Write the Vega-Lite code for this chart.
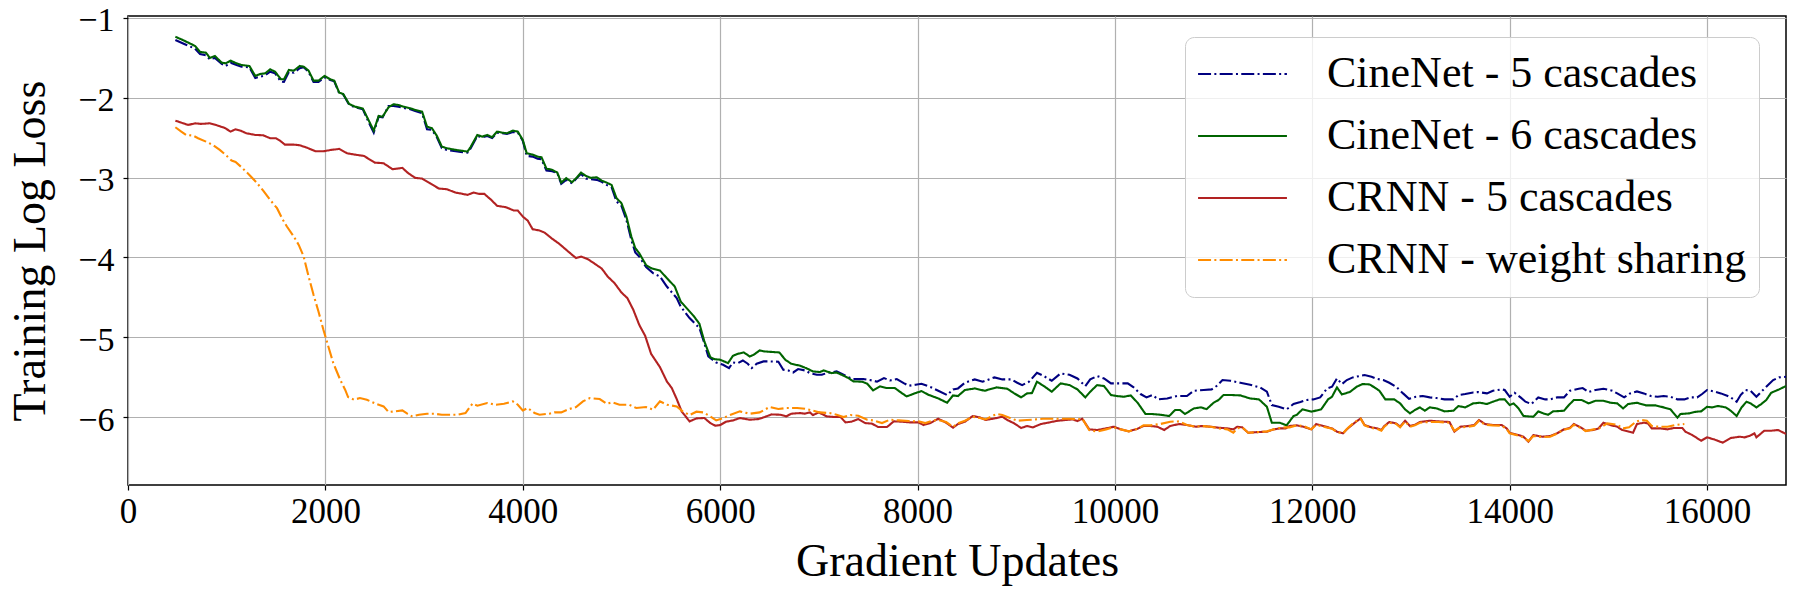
{
"$schema": "https://vega.github.io/schema/vega-lite/v6.json",
"width": 1658, "height": 469,
"autosize": {"type": "none"},
"padding": {"left": 128, "top": 16, "right": 14, "bottom": 115},
"background": "white",
"config": {
  "font": "Liberation Serif",
  "view": {"stroke": "black", "strokeWidth": 1.5},
  "axis": {"labelFont": "Liberation Serif", "labelFontSize": 35, "labelColor": "black", "tickColor": "black", "tickSize": 5, "tickWidth": 1.2, "domain": false, "grid": true, "gridColor": "#b0b0b0", "gridWidth": 1.2, "titleFont": "Liberation Serif", "titleFontSize": 46, "titleFontWeight": "normal", "titleColor": "black", "labelFlush": false}
},
"data": {"values": [
{"s":"CineNet - 5 cascades","x":480,"y":-1.279},{"s":"CineNet - 5 cascades","x":570,"y":-1.329},{"s":"CineNet - 5 cascades","x":680,"y":-1.388},{"s":"CineNet - 5 cascades","x":730,"y":-1.454},{"s":"CineNet - 5 cascades","x":790,"y":-1.471},{"s":"CineNet - 5 cascades","x":830,"y":-1.521},{"s":"CineNet - 5 cascades","x":880,"y":-1.504},{"s":"CineNet - 5 cascades","x":950,"y":-1.579},{"s":"CineNet - 5 cascades","x":990,"y":-1.604},{"s":"CineNet - 5 cascades","x":1040,"y":-1.563},{"s":"CineNet - 5 cascades","x":1100,"y":-1.592},{"s":"CineNet - 5 cascades","x":1150,"y":-1.613},{"s":"CineNet - 5 cascades","x":1230,"y":-1.621},{"s":"CineNet - 5 cascades","x":1290,"y":-1.754},{"s":"CineNet - 5 cascades","x":1340,"y":-1.738},{"s":"CineNet - 5 cascades","x":1390,"y":-1.721},{"s":"CineNet - 5 cascades","x":1440,"y":-1.675},{"s":"CineNet - 5 cascades","x":1490,"y":-1.696},{"s":"CineNet - 5 cascades","x":1550,"y":-1.8},{"s":"CineNet - 5 cascades","x":1580,"y":-1.804},{"s":"CineNet - 5 cascades","x":1630,"y":-1.679},{"s":"CineNet - 5 cascades","x":1680,"y":-1.688},{"s":"CineNet - 5 cascades","x":1740,"y":-1.633},{"s":"CineNet - 5 cascades","x":1780,"y":-1.621},{"s":"CineNet - 5 cascades","x":1830,"y":-1.679},{"s":"CineNet - 5 cascades","x":1880,"y":-1.804},{"s":"CineNet - 5 cascades","x":1930,"y":-1.804},{"s":"CineNet - 5 cascades","x":1990,"y":-1.746},{"s":"CineNet - 5 cascades","x":2050,"y":-1.779},{"s":"CineNet - 5 cascades","x":2090,"y":-1.796},{"s":"CineNet - 5 cascades","x":2140,"y":-1.946},{"s":"CineNet - 5 cascades","x":2180,"y":-1.958},{"s":"CineNet - 5 cascades","x":2240,"y":-2.088},{"s":"CineNet - 5 cascades","x":2300,"y":-2.121},{"s":"CineNet - 5 cascades","x":2380,"y":-2.146},{"s":"CineNet - 5 cascades","x":2440,"y":-2.313},{"s":"CineNet - 5 cascades","x":2490,"y":-2.438},{"s":"CineNet - 5 cascades","x":2540,"y":-2.238},{"s":"CineNet - 5 cascades","x":2580,"y":-2.246},{"s":"CineNet - 5 cascades","x":2640,"y":-2.104},{"s":"CineNet - 5 cascades","x":2690,"y":-2.104},{"s":"CineNet - 5 cascades","x":2740,"y":-2.113},{"s":"CineNet - 5 cascades","x":2790,"y":-2.129},{"s":"CineNet - 5 cascades","x":2860,"y":-2.146},{"s":"CineNet - 5 cascades","x":2910,"y":-2.167},{"s":"CineNet - 5 cascades","x":2980,"y":-2.196},{"s":"CineNet - 5 cascades","x":3030,"y":-2.396},{"s":"CineNet - 5 cascades","x":3080,"y":-2.404},{"s":"CineNet - 5 cascades","x":3130,"y":-2.496},{"s":"CineNet - 5 cascades","x":3180,"y":-2.633},{"s":"CineNet - 5 cascades","x":3230,"y":-2.654},{"s":"CineNet - 5 cascades","x":3320,"y":-2.671},{"s":"CineNet - 5 cascades","x":3370,"y":-2.679},{"s":"CineNet - 5 cascades","x":3440,"y":-2.688},{"s":"CineNet - 5 cascades","x":3470,"y":-2.638},{"s":"CineNet - 5 cascades","x":3540,"y":-2.479},{"s":"CineNet - 5 cascades","x":3590,"y":-2.496},{"s":"CineNet - 5 cascades","x":3640,"y":-2.479},{"s":"CineNet - 5 cascades","x":3690,"y":-2.504},{"s":"CineNet - 5 cascades","x":3740,"y":-2.438},{"s":"CineNet - 5 cascades","x":3790,"y":-2.446},{"s":"CineNet - 5 cascades","x":3840,"y":-2.454},{"s":"CineNet - 5 cascades","x":3900,"y":-2.429},{"s":"CineNet - 5 cascades","x":3950,"y":-2.438},{"s":"CineNet - 5 cascades","x":4000,"y":-2.538},{"s":"CineNet - 5 cascades","x":4040,"y":-2.729},{"s":"CineNet - 5 cascades","x":4100,"y":-2.738},{"s":"CineNet - 5 cascades","x":4150,"y":-2.763},{"s":"CineNet - 5 cascades","x":4190,"y":-2.771},{"s":"CineNet - 5 cascades","x":4240,"y":-2.913},{"s":"CineNet - 5 cascades","x":4300,"y":-2.921},{"s":"CineNet - 5 cascades","x":4350,"y":-2.946},{"s":"CineNet - 5 cascades","x":4390,"y":-3.079},{"s":"CineNet - 5 cascades","x":4440,"y":-3.029},{"s":"CineNet - 5 cascades","x":4500,"y":-3.071},{"s":"CineNet - 5 cascades","x":4550,"y":-3.004},{"s":"CineNet - 5 cascades","x":4590,"y":-2.954},{"s":"CineNet - 5 cascades","x":4640,"y":-3.013},{"s":"CineNet - 5 cascades","x":4690,"y":-3.021},{"s":"CineNet - 5 cascades","x":4750,"y":-3.029},{"s":"CineNet - 5 cascades","x":4800,"y":-3.054},{"s":"CineNet - 5 cascades","x":4850,"y":-3.092},{"s":"CineNet - 5 cascades","x":4900,"y":-3.121},{"s":"CineNet - 5 cascades","x":4950,"y":-3.3},{"s":"CineNet - 5 cascades","x":5000,"y":-3.354},{"s":"CineNet - 5 cascades","x":5050,"y":-3.529},{"s":"CineNet - 5 cascades","x":5100,"y":-3.779},{"s":"CineNet - 5 cascades","x":5140,"y":-3.938},{"s":"CineNet - 5 cascades","x":5180,"y":-3.988},{"s":"CineNet - 5 cascades","x":5250,"y":-4.121},{"s":"CineNet - 5 cascades","x":5320,"y":-4.196},{"s":"CineNet - 5 cascades","x":5390,"y":-4.238},{"s":"CineNet - 5 cascades","x":5460,"y":-4.363},{"s":"CineNet - 5 cascades","x":5560,"y":-4.508},{"s":"CineNet - 5 cascades","x":5600,"y":-4.613},{"s":"CineNet - 5 cascades","x":5690,"y":-4.758},{"s":"CineNet - 5 cascades","x":5790,"y":-4.883},{"s":"CineNet - 5 cascades","x":5840,"y":-5.071},{"s":"CineNet - 5 cascades","x":5880,"y":-5.238},{"s":"CineNet - 5 cascades","x":5960,"y":-5.313},{"s":"CineNet - 5 cascades","x":6030,"y":-5.342},{"s":"CineNet - 5 cascades","x":6090,"y":-5.383},{"s":"CineNet - 5 cascades","x":6130,"y":-5.313},{"s":"CineNet - 5 cascades","x":6180,"y":-5.321},{"s":"CineNet - 5 cascades","x":6230,"y":-5.288},{"s":"CineNet - 5 cascades","x":6280,"y":-5.329},{"s":"CineNet - 5 cascades","x":6320,"y":-5.383},{"s":"CineNet - 5 cascades","x":6370,"y":-5.329},{"s":"CineNet - 5 cascades","x":6440,"y":-5.3},{"s":"CineNet - 5 cascades","x":6500,"y":-5.3},{"s":"CineNet - 5 cascades","x":6590,"y":-5.304},{"s":"CineNet - 5 cascades","x":6640,"y":-5.404},{"s":"CineNet - 5 cascades","x":6690,"y":-5.413},{"s":"CineNet - 5 cascades","x":6740,"y":-5.438},{"s":"CineNet - 5 cascades","x":6790,"y":-5.396},{"s":"CineNet - 5 cascades","x":6860,"y":-5.413},{"s":"CineNet - 5 cascades","x":6910,"y":-5.446},{"s":"CineNet - 5 cascades","x":6980,"y":-5.467},{"s":"CineNet - 5 cascades","x":7030,"y":-5.467},{"s":"CineNet - 5 cascades","x":7080,"y":-5.446},{"s":"CineNet - 5 cascades","x":7180,"y":-5.425},{"s":"CineNet - 5 cascades","x":7230,"y":-5.454},{"s":"CineNet - 5 cascades","x":7300,"y":-5.496},{"s":"CineNet - 5 cascades","x":7350,"y":-5.521},{"s":"CineNet - 5 cascades","x":7450,"y":-5.521},{"s":"CineNet - 5 cascades","x":7540,"y":-5.538},{"s":"CineNet - 5 cascades","x":7590,"y":-5.554},{"s":"CineNet - 5 cascades","x":7660,"y":-5.508},{"s":"CineNet - 5 cascades","x":7720,"y":-5.538},{"s":"CineNet - 5 cascades","x":7790,"y":-5.521},{"s":"CineNet - 5 cascades","x":7860,"y":-5.571},{"s":"CineNet - 5 cascades","x":7910,"y":-5.604},{"s":"CineNet - 5 cascades","x":7980,"y":-5.592},{"s":"CineNet - 5 cascades","x":8040,"y":-5.579},{"s":"CineNet - 5 cascades","x":8130,"y":-5.62},{"s":"CineNet - 5 cascades","x":8210,"y":-5.667},{"s":"CineNet - 5 cascades","x":8300,"y":-5.721},{"s":"CineNet - 5 cascades","x":8360,"y":-5.65},{"s":"CineNet - 5 cascades","x":8410,"y":-5.638},{"s":"CineNet - 5 cascades","x":8480,"y":-5.567},{"s":"CineNet - 5 cascades","x":8580,"y":-5.525},{"s":"CineNet - 5 cascades","x":8660,"y":-5.554},{"s":"CineNet - 5 cascades","x":8780,"y":-5.5},{"s":"CineNet - 5 cascades","x":8860,"y":-5.525},{"s":"CineNet - 5 cascades","x":8950,"y":-5.525},{"s":"CineNet - 5 cascades","x":9010,"y":-5.567},{"s":"CineNet - 5 cascades","x":9060,"y":-5.596},{"s":"CineNet - 5 cascades","x":9130,"y":-5.554},{"s":"CineNet - 5 cascades","x":9210,"y":-5.442},{"s":"CineNet - 5 cascades","x":9280,"y":-5.483},{"s":"CineNet - 5 cascades","x":9360,"y":-5.542},{"s":"CineNet - 5 cascades","x":9450,"y":-5.45},{"s":"CineNet - 5 cascades","x":9540,"y":-5.467},{"s":"CineNet - 5 cascades","x":9620,"y":-5.513},{"s":"CineNet - 5 cascades","x":9700,"y":-5.608},{"s":"CineNet - 5 cascades","x":9750,"y":-5.525},{"s":"CineNet - 5 cascades","x":9820,"y":-5.483},{"s":"CineNet - 5 cascades","x":9890,"y":-5.513},{"s":"CineNet - 5 cascades","x":9960,"y":-5.575},{"s":"CineNet - 5 cascades","x":10020,"y":-5.575},{"s":"CineNet - 5 cascades","x":10130,"y":-5.575},{"s":"CineNet - 5 cascades","x":10190,"y":-5.625},{"s":"CineNet - 5 cascades","x":10260,"y":-5.708},{"s":"CineNet - 5 cascades","x":10320,"y":-5.75},{"s":"CineNet - 5 cascades","x":10380,"y":-5.721},{"s":"CineNet - 5 cascades","x":10440,"y":-5.775},{"s":"CineNet - 5 cascades","x":10530,"y":-5.763},{"s":"CineNet - 5 cascades","x":10630,"y":-5.733},{"s":"CineNet - 5 cascades","x":10730,"y":-5.733},{"s":"CineNet - 5 cascades","x":10800,"y":-5.667},{"s":"CineNet - 5 cascades","x":10900,"y":-5.658},{"s":"CineNet - 5 cascades","x":10980,"y":-5.65},{"s":"CineNet - 5 cascades","x":11030,"y":-5.608},{"s":"CineNet - 5 cascades","x":11090,"y":-5.533},{"s":"CineNet - 5 cascades","x":11170,"y":-5.542},{"s":"CineNet - 5 cascades","x":11270,"y":-5.567},{"s":"CineNet - 5 cascades","x":11370,"y":-5.592},{"s":"CineNet - 5 cascades","x":11470,"y":-5.625},{"s":"CineNet - 5 cascades","x":11540,"y":-5.679},{"s":"CineNet - 5 cascades","x":11590,"y":-5.846},{"s":"CineNet - 5 cascades","x":11660,"y":-5.867},{"s":"CineNet - 5 cascades","x":11740,"y":-5.9},{"s":"CineNet - 5 cascades","x":11810,"y":-5.833},{"s":"CineNet - 5 cascades","x":11880,"y":-5.808},{"s":"CineNet - 5 cascades","x":11940,"y":-5.783},{"s":"CineNet - 5 cascades","x":12010,"y":-5.775},{"s":"CineNet - 5 cascades","x":12080,"y":-5.75},{"s":"CineNet - 5 cascades","x":12150,"y":-5.638},{"s":"CineNet - 5 cascades","x":12200,"y":-5.617},{"s":"CineNet - 5 cascades","x":12250,"y":-5.513},{"s":"CineNet - 5 cascades","x":12300,"y":-5.583},{"s":"CineNet - 5 cascades","x":12350,"y":-5.533},{"s":"CineNet - 5 cascades","x":12410,"y":-5.5},{"s":"CineNet - 5 cascades","x":12530,"y":-5.471},{"s":"CineNet - 5 cascades","x":12600,"y":-5.492},{"s":"CineNet - 5 cascades","x":12650,"y":-5.517},{"s":"CineNet - 5 cascades","x":12720,"y":-5.533},{"s":"CineNet - 5 cascades","x":12780,"y":-5.567},{"s":"CineNet - 5 cascades","x":12850,"y":-5.617},{"s":"CineNet - 5 cascades","x":12920,"y":-5.7},{"s":"CineNet - 5 cascades","x":12980,"y":-5.767},{"s":"CineNet - 5 cascades","x":13050,"y":-5.742},{"s":"CineNet - 5 cascades","x":13120,"y":-5.733},{"s":"CineNet - 5 cascades","x":13190,"y":-5.75},{"s":"CineNet - 5 cascades","x":13260,"y":-5.758},{"s":"CineNet - 5 cascades","x":13340,"y":-5.775},{"s":"CineNet - 5 cascades","x":13430,"y":-5.775},{"s":"CineNet - 5 cascades","x":13480,"y":-5.721},{"s":"CineNet - 5 cascades","x":13550,"y":-5.708},{"s":"CineNet - 5 cascades","x":13630,"y":-5.688},{"s":"CineNet - 5 cascades","x":13680,"y":-5.683},{"s":"CineNet - 5 cascades","x":13770,"y":-5.7},{"s":"CineNet - 5 cascades","x":13830,"y":-5.667},{"s":"CineNet - 5 cascades","x":13920,"y":-5.65},{"s":"CineNet - 5 cascades","x":13950,"y":-5.658},{"s":"CineNet - 5 cascades","x":14000,"y":-5.742},{"s":"CineNet - 5 cascades","x":14050,"y":-5.692},{"s":"CineNet - 5 cascades","x":14110,"y":-5.75},{"s":"CineNet - 5 cascades","x":14160,"y":-5.804},{"s":"CineNet - 5 cascades","x":14220,"y":-5.833},{"s":"CineNet - 5 cascades","x":14290,"y":-5.75},{"s":"CineNet - 5 cascades","x":14360,"y":-5.775},{"s":"CineNet - 5 cascades","x":14410,"y":-5.775},{"s":"CineNet - 5 cascades","x":14480,"y":-5.75},{"s":"CineNet - 5 cascades","x":14550,"y":-5.75},{"s":"CineNet - 5 cascades","x":14610,"y":-5.667},{"s":"CineNet - 5 cascades","x":14700,"y":-5.642},{"s":"CineNet - 5 cascades","x":14740,"y":-5.633},{"s":"CineNet - 5 cascades","x":14800,"y":-5.683},{"s":"CineNet - 5 cascades","x":14870,"y":-5.658},{"s":"CineNet - 5 cascades","x":14950,"y":-5.642},{"s":"CineNet - 5 cascades","x":15040,"y":-5.667},{"s":"CineNet - 5 cascades","x":15090,"y":-5.7},{"s":"CineNet - 5 cascades","x":15160,"y":-5.75},{"s":"CineNet - 5 cascades","x":15220,"y":-5.7},{"s":"CineNet - 5 cascades","x":15290,"y":-5.675},{"s":"CineNet - 5 cascades","x":15360,"y":-5.7},{"s":"CineNet - 5 cascades","x":15430,"y":-5.733},{"s":"CineNet - 5 cascades","x":15500,"y":-5.742},{"s":"CineNet - 5 cascades","x":15560,"y":-5.733},{"s":"CineNet - 5 cascades","x":15630,"y":-5.742},{"s":"CineNet - 5 cascades","x":15700,"y":-5.775},{"s":"CineNet - 5 cascades","x":15770,"y":-5.775},{"s":"CineNet - 5 cascades","x":15830,"y":-5.75},{"s":"CineNet - 5 cascades","x":15900,"y":-5.75},{"s":"CineNet - 5 cascades","x":15950,"y":-5.708},{"s":"CineNet - 5 cascades","x":16000,"y":-5.658},{"s":"CineNet - 5 cascades","x":16070,"y":-5.675},{"s":"CineNet - 5 cascades","x":16140,"y":-5.7},{"s":"CineNet - 5 cascades","x":16210,"y":-5.733},{"s":"CineNet - 5 cascades","x":16240,"y":-5.75},{"s":"CineNet - 5 cascades","x":16300,"y":-5.804},{"s":"CineNet - 5 cascades","x":16340,"y":-5.721},{"s":"CineNet - 5 cascades","x":16390,"y":-5.658},{"s":"CineNet - 5 cascades","x":16440,"y":-5.667},{"s":"CineNet - 5 cascades","x":16500,"y":-5.742},{"s":"CineNet - 5 cascades","x":16550,"y":-5.679},{"s":"CineNet - 5 cascades","x":16600,"y":-5.617},{"s":"CineNet - 5 cascades","x":16670,"y":-5.533},{"s":"CineNet - 5 cascades","x":16730,"y":-5.5},{"s":"CineNet - 5 cascades","x":16800,"y":-5.492},
{"s":"CineNet - 6 cascades","x":480,"y":-1.238},{"s":"CineNet - 6 cascades","x":570,"y":-1.288},{"s":"CineNet - 6 cascades","x":680,"y":-1.354},{"s":"CineNet - 6 cascades","x":730,"y":-1.429},{"s":"CineNet - 6 cascades","x":790,"y":-1.438},{"s":"CineNet - 6 cascades","x":830,"y":-1.504},{"s":"CineNet - 6 cascades","x":880,"y":-1.479},{"s":"CineNet - 6 cascades","x":950,"y":-1.563},{"s":"CineNet - 6 cascades","x":990,"y":-1.571},{"s":"CineNet - 6 cascades","x":1040,"y":-1.538},{"s":"CineNet - 6 cascades","x":1100,"y":-1.571},{"s":"CineNet - 6 cascades","x":1150,"y":-1.592},{"s":"CineNet - 6 cascades","x":1230,"y":-1.604},{"s":"CineNet - 6 cascades","x":1290,"y":-1.729},{"s":"CineNet - 6 cascades","x":1340,"y":-1.704},{"s":"CineNet - 6 cascades","x":1390,"y":-1.696},{"s":"CineNet - 6 cascades","x":1440,"y":-1.646},{"s":"CineNet - 6 cascades","x":1490,"y":-1.675},{"s":"CineNet - 6 cascades","x":1550,"y":-1.771},{"s":"CineNet - 6 cascades","x":1580,"y":-1.771},{"s":"CineNet - 6 cascades","x":1630,"y":-1.654},{"s":"CineNet - 6 cascades","x":1680,"y":-1.663},{"s":"CineNet - 6 cascades","x":1740,"y":-1.604},{"s":"CineNet - 6 cascades","x":1780,"y":-1.613},{"s":"CineNet - 6 cascades","x":1830,"y":-1.663},{"s":"CineNet - 6 cascades","x":1880,"y":-1.788},{"s":"CineNet - 6 cascades","x":1930,"y":-1.788},{"s":"CineNet - 6 cascades","x":1990,"y":-1.729},{"s":"CineNet - 6 cascades","x":2050,"y":-1.771},{"s":"CineNet - 6 cascades","x":2090,"y":-1.788},{"s":"CineNet - 6 cascades","x":2140,"y":-1.938},{"s":"CineNet - 6 cascades","x":2180,"y":-1.954},{"s":"CineNet - 6 cascades","x":2240,"y":-2.079},{"s":"CineNet - 6 cascades","x":2300,"y":-2.113},{"s":"CineNet - 6 cascades","x":2380,"y":-2.138},{"s":"CineNet - 6 cascades","x":2440,"y":-2.288},{"s":"CineNet - 6 cascades","x":2490,"y":-2.413},{"s":"CineNet - 6 cascades","x":2540,"y":-2.229},{"s":"CineNet - 6 cascades","x":2580,"y":-2.238},{"s":"CineNet - 6 cascades","x":2640,"y":-2.121},{"s":"CineNet - 6 cascades","x":2690,"y":-2.083},{"s":"CineNet - 6 cascades","x":2740,"y":-2.092},{"s":"CineNet - 6 cascades","x":2790,"y":-2.113},{"s":"CineNet - 6 cascades","x":2860,"y":-2.133},{"s":"CineNet - 6 cascades","x":2910,"y":-2.154},{"s":"CineNet - 6 cascades","x":2980,"y":-2.175},{"s":"CineNet - 6 cascades","x":3030,"y":-2.363},{"s":"CineNet - 6 cascades","x":3080,"y":-2.383},{"s":"CineNet - 6 cascades","x":3130,"y":-2.479},{"s":"CineNet - 6 cascades","x":3180,"y":-2.613},{"s":"CineNet - 6 cascades","x":3230,"y":-2.633},{"s":"CineNet - 6 cascades","x":3320,"y":-2.654},{"s":"CineNet - 6 cascades","x":3370,"y":-2.663},{"s":"CineNet - 6 cascades","x":3440,"y":-2.675},{"s":"CineNet - 6 cascades","x":3470,"y":-2.621},{"s":"CineNet - 6 cascades","x":3540,"y":-2.467},{"s":"CineNet - 6 cascades","x":3590,"y":-2.488},{"s":"CineNet - 6 cascades","x":3640,"y":-2.467},{"s":"CineNet - 6 cascades","x":3690,"y":-2.496},{"s":"CineNet - 6 cascades","x":3740,"y":-2.425},{"s":"CineNet - 6 cascades","x":3790,"y":-2.438},{"s":"CineNet - 6 cascades","x":3840,"y":-2.446},{"s":"CineNet - 6 cascades","x":3900,"y":-2.413},{"s":"CineNet - 6 cascades","x":3950,"y":-2.425},{"s":"CineNet - 6 cascades","x":4000,"y":-2.529},{"s":"CineNet - 6 cascades","x":4040,"y":-2.696},{"s":"CineNet - 6 cascades","x":4100,"y":-2.713},{"s":"CineNet - 6 cascades","x":4150,"y":-2.738},{"s":"CineNet - 6 cascades","x":4190,"y":-2.746},{"s":"CineNet - 6 cascades","x":4240,"y":-2.888},{"s":"CineNet - 6 cascades","x":4300,"y":-2.904},{"s":"CineNet - 6 cascades","x":4350,"y":-2.938},{"s":"CineNet - 6 cascades","x":4390,"y":-3.063},{"s":"CineNet - 6 cascades","x":4440,"y":-3.008},{"s":"CineNet - 6 cascades","x":4500,"y":-3.058},{"s":"CineNet - 6 cascades","x":4550,"y":-2.996},{"s":"CineNet - 6 cascades","x":4590,"y":-2.938},{"s":"CineNet - 6 cascades","x":4640,"y":-2.979},{"s":"CineNet - 6 cascades","x":4690,"y":-3.004},{"s":"CineNet - 6 cascades","x":4750,"y":-2.996},{"s":"CineNet - 6 cascades","x":4800,"y":-3.038},{"s":"CineNet - 6 cascades","x":4850,"y":-3.063},{"s":"CineNet - 6 cascades","x":4900,"y":-3.092},{"s":"CineNet - 6 cascades","x":4950,"y":-3.258},{"s":"CineNet - 6 cascades","x":5000,"y":-3.321},{"s":"CineNet - 6 cascades","x":5050,"y":-3.488},{"s":"CineNet - 6 cascades","x":5100,"y":-3.738},{"s":"CineNet - 6 cascades","x":5140,"y":-3.883},{"s":"CineNet - 6 cascades","x":5180,"y":-3.946},{"s":"CineNet - 6 cascades","x":5250,"y":-4.096},{"s":"CineNet - 6 cascades","x":5300,"y":-4.133},{"s":"CineNet - 6 cascades","x":5390,"y":-4.163},{"s":"CineNet - 6 cascades","x":5460,"y":-4.258},{"s":"CineNet - 6 cascades","x":5540,"y":-4.363},{"s":"CineNet - 6 cascades","x":5600,"y":-4.55},{"s":"CineNet - 6 cascades","x":5660,"y":-4.633},{"s":"CineNet - 6 cascades","x":5730,"y":-4.729},{"s":"CineNet - 6 cascades","x":5790,"y":-4.829},{"s":"CineNet - 6 cascades","x":5840,"y":-5.05},{"s":"CineNet - 6 cascades","x":5900,"y":-5.246},{"s":"CineNet - 6 cascades","x":5940,"y":-5.271},{"s":"CineNet - 6 cascades","x":6000,"y":-5.279},{"s":"CineNet - 6 cascades","x":6080,"y":-5.321},{"s":"CineNet - 6 cascades","x":6130,"y":-5.229},{"s":"CineNet - 6 cascades","x":6180,"y":-5.204},{"s":"CineNet - 6 cascades","x":6240,"y":-5.188},{"s":"CineNet - 6 cascades","x":6300,"y":-5.238},{"s":"CineNet - 6 cascades","x":6340,"y":-5.217},{"s":"CineNet - 6 cascades","x":6400,"y":-5.163},{"s":"CineNet - 6 cascades","x":6450,"y":-5.175},{"s":"CineNet - 6 cascades","x":6540,"y":-5.183},{"s":"CineNet - 6 cascades","x":6600,"y":-5.188},{"s":"CineNet - 6 cascades","x":6660,"y":-5.279},{"s":"CineNet - 6 cascades","x":6720,"y":-5.329},{"s":"CineNet - 6 cascades","x":6810,"y":-5.354},{"s":"CineNet - 6 cascades","x":6870,"y":-5.383},{"s":"CineNet - 6 cascades","x":6940,"y":-5.425},{"s":"CineNet - 6 cascades","x":7010,"y":-5.433},{"s":"CineNet - 6 cascades","x":7050,"y":-5.413},{"s":"CineNet - 6 cascades","x":7130,"y":-5.446},{"s":"CineNet - 6 cascades","x":7180,"y":-5.438},{"s":"CineNet - 6 cascades","x":7230,"y":-5.467},{"s":"CineNet - 6 cascades","x":7300,"y":-5.508},{"s":"CineNet - 6 cascades","x":7350,"y":-5.55},{"s":"CineNet - 6 cascades","x":7440,"y":-5.554},{"s":"CineNet - 6 cascades","x":7490,"y":-5.579},{"s":"CineNet - 6 cascades","x":7550,"y":-5.663},{"s":"CineNet - 6 cascades","x":7620,"y":-5.613},{"s":"CineNet - 6 cascades","x":7690,"y":-5.633},{"s":"CineNet - 6 cascades","x":7770,"y":-5.633},{"s":"CineNet - 6 cascades","x":7840,"y":-5.696},{"s":"CineNet - 6 cascades","x":7890,"y":-5.738},{"s":"CineNet - 6 cascades","x":7980,"y":-5.696},{"s":"CineNet - 6 cascades","x":8040,"y":-5.671},{"s":"CineNet - 6 cascades","x":8110,"y":-5.717},{"s":"CineNet - 6 cascades","x":8210,"y":-5.763},{"s":"CineNet - 6 cascades","x":8300,"y":-5.817},{"s":"CineNet - 6 cascades","x":8360,"y":-5.725},{"s":"CineNet - 6 cascades","x":8410,"y":-5.733},{"s":"CineNet - 6 cascades","x":8480,"y":-5.658},{"s":"CineNet - 6 cascades","x":8580,"y":-5.638},{"s":"CineNet - 6 cascades","x":8680,"y":-5.667},{"s":"CineNet - 6 cascades","x":8800,"y":-5.625},{"s":"CineNet - 6 cascades","x":8910,"y":-5.642},{"s":"CineNet - 6 cascades","x":8980,"y":-5.7},{"s":"CineNet - 6 cascades","x":9050,"y":-5.75},{"s":"CineNet - 6 cascades","x":9110,"y":-5.7},{"s":"CineNet - 6 cascades","x":9160,"y":-5.696},{"s":"CineNet - 6 cascades","x":9210,"y":-5.554},{"s":"CineNet - 6 cascades","x":9280,"y":-5.608},{"s":"CineNet - 6 cascades","x":9360,"y":-5.679},{"s":"CineNet - 6 cascades","x":9450,"y":-5.575},{"s":"CineNet - 6 cascades","x":9540,"y":-5.596},{"s":"CineNet - 6 cascades","x":9620,"y":-5.65},{"s":"CineNet - 6 cascades","x":9700,"y":-5.75},{"s":"CineNet - 6 cascades","x":9750,"y":-5.679},{"s":"CineNet - 6 cascades","x":9820,"y":-5.596},{"s":"CineNet - 6 cascades","x":9890,"y":-5.608},{"s":"CineNet - 6 cascades","x":9960,"y":-5.721},{"s":"CineNet - 6 cascades","x":10020,"y":-5.733},{"s":"CineNet - 6 cascades","x":10090,"y":-5.742},{"s":"CineNet - 6 cascades","x":10160,"y":-5.725},{"s":"CineNet - 6 cascades","x":10230,"y":-5.817},{"s":"CineNet - 6 cascades","x":10310,"y":-5.958},{"s":"CineNet - 6 cascades","x":10380,"y":-5.958},{"s":"CineNet - 6 cascades","x":10460,"y":-5.967},{"s":"CineNet - 6 cascades","x":10550,"y":-5.983},{"s":"CineNet - 6 cascades","x":10610,"y":-5.908},{"s":"CineNet - 6 cascades","x":10660,"y":-5.908},{"s":"CineNet - 6 cascades","x":10710,"y":-5.958},{"s":"CineNet - 6 cascades","x":10800,"y":-5.888},{"s":"CineNet - 6 cascades","x":10870,"y":-5.875},{"s":"CineNet - 6 cascades","x":10930,"y":-5.896},{"s":"CineNet - 6 cascades","x":11000,"y":-5.817},{"s":"CineNet - 6 cascades","x":11050,"y":-5.783},{"s":"CineNet - 6 cascades","x":11100,"y":-5.721},{"s":"CineNet - 6 cascades","x":11190,"y":-5.721},{"s":"CineNet - 6 cascades","x":11270,"y":-5.725},{"s":"CineNet - 6 cascades","x":11370,"y":-5.763},{"s":"CineNet - 6 cascades","x":11460,"y":-5.775},{"s":"CineNet - 6 cascades","x":11540,"y":-5.867},{"s":"CineNet - 6 cascades","x":11590,"y":-6.067},{"s":"CineNet - 6 cascades","x":11670,"y":-6.067},{"s":"CineNet - 6 cascades","x":11740,"y":-6.1},{"s":"CineNet - 6 cascades","x":11810,"y":-5.983},{"s":"CineNet - 6 cascades","x":11840,"y":-5.971},{"s":"CineNet - 6 cascades","x":11900,"y":-5.9},{"s":"CineNet - 6 cascades","x":11990,"y":-5.929},{"s":"CineNet - 6 cascades","x":12090,"y":-5.9},{"s":"CineNet - 6 cascades","x":12160,"y":-5.775},{"s":"CineNet - 6 cascades","x":12200,"y":-5.742},{"s":"CineNet - 6 cascades","x":12250,"y":-5.625},{"s":"CineNet - 6 cascades","x":12300,"y":-5.713},{"s":"CineNet - 6 cascades","x":12380,"y":-5.683},{"s":"CineNet - 6 cascades","x":12450,"y":-5.617},{"s":"CineNet - 6 cascades","x":12510,"y":-5.583},{"s":"CineNet - 6 cascades","x":12580,"y":-5.588},{"s":"CineNet - 6 cascades","x":12630,"y":-5.625},{"s":"CineNet - 6 cascades","x":12680,"y":-5.667},{"s":"CineNet - 6 cascades","x":12740,"y":-5.775},{"s":"CineNet - 6 cascades","x":12830,"y":-5.775},{"s":"CineNet - 6 cascades","x":12890,"y":-5.825},{"s":"CineNet - 6 cascades","x":12940,"y":-5.9},{"s":"CineNet - 6 cascades","x":12990,"y":-5.95},{"s":"CineNet - 6 cascades","x":13040,"y":-5.908},{"s":"CineNet - 6 cascades","x":13090,"y":-5.875},{"s":"CineNet - 6 cascades","x":13140,"y":-5.917},{"s":"CineNet - 6 cascades","x":13190,"y":-5.875},{"s":"CineNet - 6 cascades","x":13260,"y":-5.888},{"s":"CineNet - 6 cascades","x":13340,"y":-5.925},{"s":"CineNet - 6 cascades","x":13430,"y":-5.917},{"s":"CineNet - 6 cascades","x":13480,"y":-5.858},{"s":"CineNet - 6 cascades","x":13550,"y":-5.875},{"s":"CineNet - 6 cascades","x":13630,"y":-5.825},{"s":"CineNet - 6 cascades","x":13700,"y":-5.817},{"s":"CineNet - 6 cascades","x":13770,"y":-5.833},{"s":"CineNet - 6 cascades","x":13830,"y":-5.804},{"s":"CineNet - 6 cascades","x":13900,"y":-5.775},{"s":"CineNet - 6 cascades","x":13950,"y":-5.775},{"s":"CineNet - 6 cascades","x":14000,"y":-5.846},{"s":"CineNet - 6 cascades","x":14040,"y":-5.825},{"s":"CineNet - 6 cascades","x":14090,"y":-5.888},{"s":"CineNet - 6 cascades","x":14140,"y":-5.983},{"s":"CineNet - 6 cascades","x":14240,"y":-5.992},{"s":"CineNet - 6 cascades","x":14290,"y":-5.925},{"s":"CineNet - 6 cascades","x":14340,"y":-5.95},{"s":"CineNet - 6 cascades","x":14390,"y":-5.967},{"s":"CineNet - 6 cascades","x":14440,"y":-5.925},{"s":"CineNet - 6 cascades","x":14550,"y":-5.917},{"s":"CineNet - 6 cascades","x":14600,"y":-5.846},{"s":"CineNet - 6 cascades","x":14650,"y":-5.783},{"s":"CineNet - 6 cascades","x":14730,"y":-5.783},{"s":"CineNet - 6 cascades","x":14800,"y":-5.825},{"s":"CineNet - 6 cascades","x":14870,"y":-5.792},{"s":"CineNet - 6 cascades","x":14950,"y":-5.792},{"s":"CineNet - 6 cascades","x":15020,"y":-5.817},{"s":"CineNet - 6 cascades","x":15090,"y":-5.825},{"s":"CineNet - 6 cascades","x":15150,"y":-5.888},{"s":"CineNet - 6 cascades","x":15200,"y":-5.833},{"s":"CineNet - 6 cascades","x":15290,"y":-5.817},{"s":"CineNet - 6 cascades","x":15380,"y":-5.85},{"s":"CineNet - 6 cascades","x":15480,"y":-5.85},{"s":"CineNet - 6 cascades","x":15560,"y":-5.875},{"s":"CineNet - 6 cascades","x":15630,"y":-5.9},{"s":"CineNet - 6 cascades","x":15700,"y":-6.004},{"s":"CineNet - 6 cascades","x":15730,"y":-5.958},{"s":"CineNet - 6 cascades","x":15820,"y":-5.95},{"s":"CineNet - 6 cascades","x":15890,"y":-5.929},{"s":"CineNet - 6 cascades","x":15940,"y":-5.925},{"s":"CineNet - 6 cascades","x":16000,"y":-5.867},{"s":"CineNet - 6 cascades","x":16050,"y":-5.875},{"s":"CineNet - 6 cascades","x":16110,"y":-5.858},{"s":"CineNet - 6 cascades","x":16190,"y":-5.875},{"s":"CineNet - 6 cascades","x":16240,"y":-5.917},{"s":"CineNet - 6 cascades","x":16300,"y":-5.983},{"s":"CineNet - 6 cascades","x":16350,"y":-5.875},{"s":"CineNet - 6 cascades","x":16400,"y":-5.804},{"s":"CineNet - 6 cascades","x":16440,"y":-5.825},{"s":"CineNet - 6 cascades","x":16500,"y":-5.875},{"s":"CineNet - 6 cascades","x":16550,"y":-5.833},{"s":"CineNet - 6 cascades","x":16600,"y":-5.783},{"s":"CineNet - 6 cascades","x":16650,"y":-5.692},{"s":"CineNet - 6 cascades","x":16730,"y":-5.65},{"s":"CineNet - 6 cascades","x":16800,"y":-5.608},
{"s":"CRNN - 5 cascades","x":480,"y":-2.288},{"s":"CRNN - 5 cascades","x":540,"y":-2.313},{"s":"CRNN - 5 cascades","x":610,"y":-2.342},{"s":"CRNN - 5 cascades","x":680,"y":-2.321},{"s":"CRNN - 5 cascades","x":740,"y":-2.329},{"s":"CRNN - 5 cascades","x":830,"y":-2.321},{"s":"CRNN - 5 cascades","x":900,"y":-2.346},{"s":"CRNN - 5 cascades","x":980,"y":-2.379},{"s":"CRNN - 5 cascades","x":1040,"y":-2.425},{"s":"CRNN - 5 cascades","x":1090,"y":-2.396},{"s":"CRNN - 5 cascades","x":1140,"y":-2.413},{"s":"CRNN - 5 cascades","x":1200,"y":-2.446},{"s":"CRNN - 5 cascades","x":1290,"y":-2.467},{"s":"CRNN - 5 cascades","x":1370,"y":-2.471},{"s":"CRNN - 5 cascades","x":1440,"y":-2.508},{"s":"CRNN - 5 cascades","x":1500,"y":-2.508},{"s":"CRNN - 5 cascades","x":1540,"y":-2.538},{"s":"CRNN - 5 cascades","x":1590,"y":-2.588},{"s":"CRNN - 5 cascades","x":1680,"y":-2.588},{"s":"CRNN - 5 cascades","x":1740,"y":-2.596},{"s":"CRNN - 5 cascades","x":1810,"y":-2.625},{"s":"CRNN - 5 cascades","x":1900,"y":-2.671},{"s":"CRNN - 5 cascades","x":1980,"y":-2.671},{"s":"CRNN - 5 cascades","x":2060,"y":-2.654},{"s":"CRNN - 5 cascades","x":2140,"y":-2.642},{"s":"CRNN - 5 cascades","x":2220,"y":-2.696},{"s":"CRNN - 5 cascades","x":2320,"y":-2.717},{"s":"CRNN - 5 cascades","x":2390,"y":-2.729},{"s":"CRNN - 5 cascades","x":2500,"y":-2.813},{"s":"CRNN - 5 cascades","x":2590,"y":-2.821},{"s":"CRNN - 5 cascades","x":2680,"y":-2.896},{"s":"CRNN - 5 cascades","x":2780,"y":-2.879},{"s":"CRNN - 5 cascades","x":2840,"y":-2.946},{"s":"CRNN - 5 cascades","x":2910,"y":-3.004},{"s":"CRNN - 5 cascades","x":2980,"y":-3.013},{"s":"CRNN - 5 cascades","x":3060,"y":-3.071},{"s":"CRNN - 5 cascades","x":3150,"y":-3.138},{"s":"CRNN - 5 cascades","x":3230,"y":-3.146},{"s":"CRNN - 5 cascades","x":3320,"y":-3.188},{"s":"CRNN - 5 cascades","x":3390,"y":-3.204},{"s":"CRNN - 5 cascades","x":3440,"y":-3.217},{"s":"CRNN - 5 cascades","x":3500,"y":-3.188},{"s":"CRNN - 5 cascades","x":3560,"y":-3.204},{"s":"CRNN - 5 cascades","x":3610,"y":-3.204},{"s":"CRNN - 5 cascades","x":3680,"y":-3.279},{"s":"CRNN - 5 cascades","x":3740,"y":-3.354},{"s":"CRNN - 5 cascades","x":3830,"y":-3.371},{"s":"CRNN - 5 cascades","x":3910,"y":-3.413},{"s":"CRNN - 5 cascades","x":3950,"y":-3.413},{"s":"CRNN - 5 cascades","x":4000,"y":-3.488},{"s":"CRNN - 5 cascades","x":4020,"y":-3.508},{"s":"CRNN - 5 cascades","x":4050,"y":-3.538},{"s":"CRNN - 5 cascades","x":4100,"y":-3.646},{"s":"CRNN - 5 cascades","x":4170,"y":-3.663},{"s":"CRNN - 5 cascades","x":4220,"y":-3.688},{"s":"CRNN - 5 cascades","x":4290,"y":-3.758},{"s":"CRNN - 5 cascades","x":4370,"y":-3.829},{"s":"CRNN - 5 cascades","x":4460,"y":-3.925},{"s":"CRNN - 5 cascades","x":4540,"y":-4.008},{"s":"CRNN - 5 cascades","x":4590,"y":-3.988},{"s":"CRNN - 5 cascades","x":4660,"y":-4.021},{"s":"CRNN - 5 cascades","x":4730,"y":-4.079},{"s":"CRNN - 5 cascades","x":4800,"y":-4.138},{"s":"CRNN - 5 cascades","x":4860,"y":-4.238},{"s":"CRNN - 5 cascades","x":4930,"y":-4.321},{"s":"CRNN - 5 cascades","x":5000,"y":-4.438},{"s":"CRNN - 5 cascades","x":5060,"y":-4.508},{"s":"CRNN - 5 cascades","x":5120,"y":-4.654},{"s":"CRNN - 5 cascades","x":5180,"y":-4.842},{"s":"CRNN - 5 cascades","x":5240,"y":-4.979},{"s":"CRNN - 5 cascades","x":5300,"y":-5.204},{"s":"CRNN - 5 cascades","x":5390,"y":-5.371},{"s":"CRNN - 5 cascades","x":5460,"y":-5.55},{"s":"CRNN - 5 cascades","x":5510,"y":-5.633},{"s":"CRNN - 5 cascades","x":5560,"y":-5.771},{"s":"CRNN - 5 cascades","x":5610,"y":-5.925},{"s":"CRNN - 5 cascades","x":5690,"y":-6.05},{"s":"CRNN - 5 cascades","x":5760,"y":-6.013},{"s":"CRNN - 5 cascades","x":5840,"y":-6.008},{"s":"CRNN - 5 cascades","x":5900,"y":-6.071},{"s":"CRNN - 5 cascades","x":5950,"y":-6.104},{"s":"CRNN - 5 cascades","x":6000,"y":-6.096},{"s":"CRNN - 5 cascades","x":6060,"y":-6.054},{"s":"CRNN - 5 cascades","x":6130,"y":-6.038},{"s":"CRNN - 5 cascades","x":6200,"y":-6.008},{"s":"CRNN - 5 cascades","x":6300,"y":-6.029},{"s":"CRNN - 5 cascades","x":6390,"y":-6.021},{"s":"CRNN - 5 cascades","x":6450,"y":-5.996},{"s":"CRNN - 5 cascades","x":6520,"y":-5.963},{"s":"CRNN - 5 cascades","x":6610,"y":-5.967},{"s":"CRNN - 5 cascades","x":6670,"y":-5.988},{"s":"CRNN - 5 cascades","x":6720,"y":-5.954},{"s":"CRNN - 5 cascades","x":6810,"y":-5.946},{"s":"CRNN - 5 cascades","x":6860,"y":-5.954},{"s":"CRNN - 5 cascades","x":6910,"y":-5.938},{"s":"CRNN - 5 cascades","x":6940,"y":-5.971},{"s":"CRNN - 5 cascades","x":7000,"y":-5.938},{"s":"CRNN - 5 cascades","x":7080,"y":-5.988},{"s":"CRNN - 5 cascades","x":7160,"y":-5.996},{"s":"CRNN - 5 cascades","x":7220,"y":-5.996},{"s":"CRNN - 5 cascades","x":7270,"y":-6.063},{"s":"CRNN - 5 cascades","x":7330,"y":-6.054},{"s":"CRNN - 5 cascades","x":7400,"y":-6.021},{"s":"CRNN - 5 cascades","x":7470,"y":-6.071},{"s":"CRNN - 5 cascades","x":7540,"y":-6.079},{"s":"CRNN - 5 cascades","x":7600,"y":-6.121},{"s":"CRNN - 5 cascades","x":7690,"y":-6.121},{"s":"CRNN - 5 cascades","x":7760,"y":-6.05},{"s":"CRNN - 5 cascades","x":7840,"y":-6.054},{"s":"CRNN - 5 cascades","x":7930,"y":-6.063},{"s":"CRNN - 5 cascades","x":8010,"y":-6.063},{"s":"CRNN - 5 cascades","x":8060,"y":-6.096},{"s":"CRNN - 5 cascades","x":8130,"y":-6.071},{"s":"CRNN - 5 cascades","x":8210,"y":-6.017},{"s":"CRNN - 5 cascades","x":8290,"y":-6.067},{"s":"CRNN - 5 cascades","x":8360,"y":-6.129},{"s":"CRNN - 5 cascades","x":8410,"y":-6.083},{"s":"CRNN - 5 cascades","x":8480,"y":-6.054},{"s":"CRNN - 5 cascades","x":8560,"y":-5.983},{"s":"CRNN - 5 cascades","x":8630,"y":-6.0},{"s":"CRNN - 5 cascades","x":8690,"y":-6.033},{"s":"CRNN - 5 cascades","x":8780,"y":-6.013},{"s":"CRNN - 5 cascades","x":8860,"y":-5.992},{"s":"CRNN - 5 cascades","x":8910,"y":-6.033},{"s":"CRNN - 5 cascades","x":8980,"y":-6.075},{"s":"CRNN - 5 cascades","x":9050,"y":-6.133},{"s":"CRNN - 5 cascades","x":9110,"y":-6.108},{"s":"CRNN - 5 cascades","x":9170,"y":-6.125},{"s":"CRNN - 5 cascades","x":9250,"y":-6.083},{"s":"CRNN - 5 cascades","x":9320,"y":-6.067},{"s":"CRNN - 5 cascades","x":9420,"y":-6.042},{"s":"CRNN - 5 cascades","x":9500,"y":-6.033},{"s":"CRNN - 5 cascades","x":9570,"y":-6.025},{"s":"CRNN - 5 cascades","x":9620,"y":-6.046},{"s":"CRNN - 5 cascades","x":9670,"y":-6.017},{"s":"CRNN - 5 cascades","x":9740,"y":-6.15},{"s":"CRNN - 5 cascades","x":9820,"y":-6.158},{"s":"CRNN - 5 cascades","x":9910,"y":-6.138},{"s":"CRNN - 5 cascades","x":9990,"y":-6.117},{"s":"CRNN - 5 cascades","x":10060,"y":-6.15},{"s":"CRNN - 5 cascades","x":10140,"y":-6.175},{"s":"CRNN - 5 cascades","x":10230,"y":-6.142},{"s":"CRNN - 5 cascades","x":10290,"y":-6.108},{"s":"CRNN - 5 cascades","x":10360,"y":-6.108},{"s":"CRNN - 5 cascades","x":10430,"y":-6.117},{"s":"CRNN - 5 cascades","x":10500,"y":-6.158},{"s":"CRNN - 5 cascades","x":10560,"y":-6.108},{"s":"CRNN - 5 cascades","x":10650,"y":-6.083},{"s":"CRNN - 5 cascades","x":10730,"y":-6.096},{"s":"CRNN - 5 cascades","x":10820,"y":-6.117},{"s":"CRNN - 5 cascades","x":10880,"y":-6.108},{"s":"CRNN - 5 cascades","x":10970,"y":-6.117},{"s":"CRNN - 5 cascades","x":11050,"y":-6.129},{"s":"CRNN - 5 cascades","x":11140,"y":-6.138},{"s":"CRNN - 5 cascades","x":11200,"y":-6.15},{"s":"CRNN - 5 cascades","x":11240,"y":-6.117},{"s":"CRNN - 5 cascades","x":11290,"y":-6.125},{"s":"CRNN - 5 cascades","x":11350,"y":-6.192},{"s":"CRNN - 5 cascades","x":11460,"y":-6.183},{"s":"CRNN - 5 cascades","x":11540,"y":-6.179},{"s":"CRNN - 5 cascades","x":11610,"y":-6.15},{"s":"CRNN - 5 cascades","x":11670,"y":-6.138},{"s":"CRNN - 5 cascades","x":11730,"y":-6.138},{"s":"CRNN - 5 cascades","x":11770,"y":-6.108},{"s":"CRNN - 5 cascades","x":11840,"y":-6.1},{"s":"CRNN - 5 cascades","x":11910,"y":-6.117},{"s":"CRNN - 5 cascades","x":11990,"y":-6.15},{"s":"CRNN - 5 cascades","x":12040,"y":-6.083},{"s":"CRNN - 5 cascades","x":12110,"y":-6.108},{"s":"CRNN - 5 cascades","x":12200,"y":-6.138},{"s":"CRNN - 5 cascades","x":12250,"y":-6.179},{"s":"CRNN - 5 cascades","x":12310,"y":-6.2},{"s":"CRNN - 5 cascades","x":12360,"y":-6.138},{"s":"CRNN - 5 cascades","x":12430,"y":-6.067},{"s":"CRNN - 5 cascades","x":12490,"y":-6.013},{"s":"CRNN - 5 cascades","x":12530,"y":-6.096},{"s":"CRNN - 5 cascades","x":12600,"y":-6.125},{"s":"CRNN - 5 cascades","x":12660,"y":-6.138},{"s":"CRNN - 5 cascades","x":12700,"y":-6.158},{"s":"CRNN - 5 cascades","x":12730,"y":-6.108},{"s":"CRNN - 5 cascades","x":12780,"y":-6.058},{"s":"CRNN - 5 cascades","x":12850,"y":-6.075},{"s":"CRNN - 5 cascades","x":12890,"y":-6.117},{"s":"CRNN - 5 cascades","x":12940,"y":-6.042},{"s":"CRNN - 5 cascades","x":12990,"y":-6.108},{"s":"CRNN - 5 cascades","x":13040,"y":-6.092},{"s":"CRNN - 5 cascades","x":13090,"y":-6.058},{"s":"CRNN - 5 cascades","x":13190,"y":-6.042},{"s":"CRNN - 5 cascades","x":13280,"y":-6.05},{"s":"CRNN - 5 cascades","x":13390,"y":-6.058},{"s":"CRNN - 5 cascades","x":13440,"y":-6.179},{"s":"CRNN - 5 cascades","x":13500,"y":-6.117},{"s":"CRNN - 5 cascades","x":13580,"y":-6.108},{"s":"CRNN - 5 cascades","x":13640,"y":-6.096},{"s":"CRNN - 5 cascades","x":13690,"y":-6.033},{"s":"CRNN - 5 cascades","x":13750,"y":-6.083},{"s":"CRNN - 5 cascades","x":13830,"y":-6.096},{"s":"CRNN - 5 cascades","x":13920,"y":-6.096},{"s":"CRNN - 5 cascades","x":13970,"y":-6.138},{"s":"CRNN - 5 cascades","x":14000,"y":-6.192},{"s":"CRNN - 5 cascades","x":14090,"y":-6.221},{"s":"CRNN - 5 cascades","x":14140,"y":-6.242},{"s":"CRNN - 5 cascades","x":14190,"y":-6.304},{"s":"CRNN - 5 cascades","x":14240,"y":-6.221},{"s":"CRNN - 5 cascades","x":14330,"y":-6.242},{"s":"CRNN - 5 cascades","x":14410,"y":-6.233},{"s":"CRNN - 5 cascades","x":14480,"y":-6.2},{"s":"CRNN - 5 cascades","x":14550,"y":-6.15},{"s":"CRNN - 5 cascades","x":14610,"y":-6.133},{"s":"CRNN - 5 cascades","x":14650,"y":-6.083},{"s":"CRNN - 5 cascades","x":14720,"y":-6.125},{"s":"CRNN - 5 cascades","x":14770,"y":-6.167},{"s":"CRNN - 5 cascades","x":14850,"y":-6.158},{"s":"CRNN - 5 cascades","x":14900,"y":-6.138},{"s":"CRNN - 5 cascades","x":14950,"y":-6.067},{"s":"CRNN - 5 cascades","x":15020,"y":-6.096},{"s":"CRNN - 5 cascades","x":15090,"y":-6.117},{"s":"CRNN - 5 cascades","x":15140,"y":-6.158},{"s":"CRNN - 5 cascades","x":15210,"y":-6.179},{"s":"CRNN - 5 cascades","x":15250,"y":-6.192},{"s":"CRNN - 5 cascades","x":15290,"y":-6.083},{"s":"CRNN - 5 cascades","x":15360,"y":-6.067},{"s":"CRNN - 5 cascades","x":15400,"y":-6.075},{"s":"CRNN - 5 cascades","x":15440,"y":-6.138},{"s":"CRNN - 5 cascades","x":15530,"y":-6.138},{"s":"CRNN - 5 cascades","x":15600,"y":-6.15},{"s":"CRNN - 5 cascades","x":15660,"y":-6.133},{"s":"CRNN - 5 cascades","x":15750,"y":-6.133},{"s":"CRNN - 5 cascades","x":15780,"y":-6.179},{"s":"CRNN - 5 cascades","x":15850,"y":-6.221},{"s":"CRNN - 5 cascades","x":15940,"y":-6.292},{"s":"CRNN - 5 cascades","x":16000,"y":-6.25},{"s":"CRNN - 5 cascades","x":16070,"y":-6.275},{"s":"CRNN - 5 cascades","x":16160,"y":-6.317},{"s":"CRNN - 5 cascades","x":16240,"y":-6.258},{"s":"CRNN - 5 cascades","x":16330,"y":-6.242},{"s":"CRNN - 5 cascades","x":16380,"y":-6.25},{"s":"CRNN - 5 cascades","x":16430,"y":-6.233},{"s":"CRNN - 5 cascades","x":16480,"y":-6.2},{"s":"CRNN - 5 cascades","x":16500,"y":-6.25},{"s":"CRNN - 5 cascades","x":16580,"y":-6.167},{"s":"CRNN - 5 cascades","x":16650,"y":-6.167},{"s":"CRNN - 5 cascades","x":16720,"y":-6.158},{"s":"CRNN - 5 cascades","x":16800,"y":-6.208},
{"s":"CRNN - weight sharing","x":480,"y":-2.371},{"s":"CRNN - weight sharing","x":540,"y":-2.425},{"s":"CRNN - weight sharing","x":590,"y":-2.467},{"s":"CRNN - weight sharing","x":660,"y":-2.475},{"s":"CRNN - weight sharing","x":710,"y":-2.508},{"s":"CRNN - weight sharing","x":790,"y":-2.55},{"s":"CRNN - weight sharing","x":860,"y":-2.592},{"s":"CRNN - weight sharing","x":930,"y":-2.654},{"s":"CRNN - weight sharing","x":990,"y":-2.717},{"s":"CRNN - weight sharing","x":1050,"y":-2.788},{"s":"CRNN - weight sharing","x":1090,"y":-2.804},{"s":"CRNN - weight sharing","x":1150,"y":-2.871},{"s":"CRNN - weight sharing","x":1230,"y":-2.967},{"s":"CRNN - weight sharing","x":1300,"y":-3.058},{"s":"CRNN - weight sharing","x":1370,"y":-3.163},{"s":"CRNN - weight sharing","x":1440,"y":-3.279},{"s":"CRNN - weight sharing","x":1510,"y":-3.383},{"s":"CRNN - weight sharing","x":1560,"y":-3.508},{"s":"CRNN - weight sharing","x":1610,"y":-3.613},{"s":"CRNN - weight sharing","x":1680,"y":-3.738},{"s":"CRNN - weight sharing","x":1730,"y":-3.842},{"s":"CRNN - weight sharing","x":1780,"y":-3.988},{"s":"CRNN - weight sharing","x":1830,"y":-4.238},{"s":"CRNN - weight sharing","x":1880,"y":-4.467},{"s":"CRNN - weight sharing","x":1930,"y":-4.675},{"s":"CRNN - weight sharing","x":1980,"y":-4.904},{"s":"CRNN - weight sharing","x":2030,"y":-5.113},{"s":"CRNN - weight sharing","x":2080,"y":-5.321},{"s":"CRNN - weight sharing","x":2150,"y":-5.529},{"s":"CRNN - weight sharing","x":2200,"y":-5.654},{"s":"CRNN - weight sharing","x":2230,"y":-5.746},{"s":"CRNN - weight sharing","x":2290,"y":-5.779},{"s":"CRNN - weight sharing","x":2350,"y":-5.758},{"s":"CRNN - weight sharing","x":2420,"y":-5.779},{"s":"CRNN - weight sharing","x":2510,"y":-5.829},{"s":"CRNN - weight sharing","x":2590,"y":-5.863},{"s":"CRNN - weight sharing","x":2640,"y":-5.933},{"s":"CRNN - weight sharing","x":2710,"y":-5.925},{"s":"CRNN - weight sharing","x":2780,"y":-5.913},{"s":"CRNN - weight sharing","x":2830,"y":-5.954},{"s":"CRNN - weight sharing","x":2880,"y":-5.988},{"s":"CRNN - weight sharing","x":2950,"y":-5.967},{"s":"CRNN - weight sharing","x":3030,"y":-5.954},{"s":"CRNN - weight sharing","x":3100,"y":-5.954},{"s":"CRNN - weight sharing","x":3180,"y":-5.967},{"s":"CRNN - weight sharing","x":3270,"y":-5.967},{"s":"CRNN - weight sharing","x":3340,"y":-5.967},{"s":"CRNN - weight sharing","x":3420,"y":-5.946},{"s":"CRNN - weight sharing","x":3490,"y":-5.829},{"s":"CRNN - weight sharing","x":3540,"y":-5.854},{"s":"CRNN - weight sharing","x":3640,"y":-5.821},{"s":"CRNN - weight sharing","x":3730,"y":-5.842},{"s":"CRNN - weight sharing","x":3810,"y":-5.829},{"s":"CRNN - weight sharing","x":3900,"y":-5.8},{"s":"CRNN - weight sharing","x":3950,"y":-5.842},{"s":"CRNN - weight sharing","x":4000,"y":-5.913},{"s":"CRNN - weight sharing","x":4050,"y":-5.883},{"s":"CRNN - weight sharing","x":4120,"y":-5.946},{"s":"CRNN - weight sharing","x":4170,"y":-5.967},{"s":"CRNN - weight sharing","x":4270,"y":-5.954},{"s":"CRNN - weight sharing","x":4320,"y":-5.938},{"s":"CRNN - weight sharing","x":4390,"y":-5.938},{"s":"CRNN - weight sharing","x":4470,"y":-5.896},{"s":"CRNN - weight sharing","x":4540,"y":-5.871},{"s":"CRNN - weight sharing","x":4610,"y":-5.8},{"s":"CRNN - weight sharing","x":4680,"y":-5.758},{"s":"CRNN - weight sharing","x":4780,"y":-5.771},{"s":"CRNN - weight sharing","x":4850,"y":-5.829},{"s":"CRNN - weight sharing","x":4910,"y":-5.813},{"s":"CRNN - weight sharing","x":4980,"y":-5.842},{"s":"CRNN - weight sharing","x":5080,"y":-5.842},{"s":"CRNN - weight sharing","x":5150,"y":-5.883},{"s":"CRNN - weight sharing","x":5250,"y":-5.871},{"s":"CRNN - weight sharing","x":5320,"y":-5.904},{"s":"CRNN - weight sharing","x":5390,"y":-5.8},{"s":"CRNN - weight sharing","x":5460,"y":-5.842},{"s":"CRNN - weight sharing","x":5560,"y":-5.863},{"s":"CRNN - weight sharing","x":5620,"y":-5.925},{"s":"CRNN - weight sharing","x":5690,"y":-5.971},{"s":"CRNN - weight sharing","x":5760,"y":-5.929},{"s":"CRNN - weight sharing","x":5830,"y":-5.938},{"s":"CRNN - weight sharing","x":5900,"y":-5.988},{"s":"CRNN - weight sharing","x":5960,"y":-6.038},{"s":"CRNN - weight sharing","x":6030,"y":-6.008},{"s":"CRNN - weight sharing","x":6100,"y":-5.971},{"s":"CRNN - weight sharing","x":6200,"y":-5.925},{"s":"CRNN - weight sharing","x":6300,"y":-5.954},{"s":"CRNN - weight sharing","x":6400,"y":-5.938},{"s":"CRNN - weight sharing","x":6500,"y":-5.871},{"s":"CRNN - weight sharing","x":6590,"y":-5.896},{"s":"CRNN - weight sharing","x":6670,"y":-5.883},{"s":"CRNN - weight sharing","x":6780,"y":-5.883},{"s":"CRNN - weight sharing","x":6860,"y":-5.892},{"s":"CRNN - weight sharing","x":6930,"y":-5.913},{"s":"CRNN - weight sharing","x":7010,"y":-5.938},{"s":"CRNN - weight sharing","x":7110,"y":-5.946},{"s":"CRNN - weight sharing","x":7180,"y":-5.967},{"s":"CRNN - weight sharing","x":7250,"y":-5.996},{"s":"CRNN - weight sharing","x":7320,"y":-5.971},{"s":"CRNN - weight sharing","x":7400,"y":-5.979},{"s":"CRNN - weight sharing","x":7490,"y":-6.029},{"s":"CRNN - weight sharing","x":7550,"y":-6.038},{"s":"CRNN - weight sharing","x":7640,"y":-6.071},{"s":"CRNN - weight sharing","x":7720,"y":-6.029},{"s":"CRNN - weight sharing","x":7810,"y":-6.038},{"s":"CRNN - weight sharing","x":7910,"y":-6.046},{"s":"CRNN - weight sharing","x":8010,"y":-6.05},{"s":"CRNN - weight sharing","x":8080,"y":-6.071},{"s":"CRNN - weight sharing","x":8160,"y":-6.038},{"s":"CRNN - weight sharing","x":8210,"y":-6.033},{"s":"CRNN - weight sharing","x":8290,"y":-6.058},{"s":"CRNN - weight sharing","x":8360,"y":-6.117},{"s":"CRNN - weight sharing","x":8410,"y":-6.075},{"s":"CRNN - weight sharing","x":8480,"y":-6.042},{"s":"CRNN - weight sharing","x":8560,"y":-5.992},{"s":"CRNN - weight sharing","x":8630,"y":-6.008},{"s":"CRNN - weight sharing","x":8690,"y":-6.025},{"s":"CRNN - weight sharing","x":8800,"y":-5.958},{"s":"CRNN - weight sharing","x":8860,"y":-5.971},{"s":"CRNN - weight sharing","x":8950,"y":-6.013},{"s":"CRNN - weight sharing","x":9010,"y":-6.042},{"s":"CRNN - weight sharing","x":9110,"y":-6.033},{"s":"CRNN - weight sharing","x":9200,"y":-6.025},{"s":"CRNN - weight sharing","x":9270,"y":-6.017},{"s":"CRNN - weight sharing","x":9420,"y":-6.017},{"s":"CRNN - weight sharing","x":9550,"y":-6.017},{"s":"CRNN - weight sharing","x":9620,"y":-6.025},{"s":"CRNN - weight sharing","x":9670,"y":-6.017},{"s":"CRNN - weight sharing","x":9740,"y":-6.158},{"s":"CRNN - weight sharing","x":9820,"y":-6.179},{"s":"CRNN - weight sharing","x":9910,"y":-6.15},{"s":"CRNN - weight sharing","x":9990,"y":-6.125},{"s":"CRNN - weight sharing","x":10060,"y":-6.15},{"s":"CRNN - weight sharing","x":10140,"y":-6.175},{"s":"CRNN - weight sharing","x":10230,"y":-6.142},{"s":"CRNN - weight sharing","x":10290,"y":-6.1},{"s":"CRNN - weight sharing","x":10360,"y":-6.1},{"s":"CRNN - weight sharing","x":10460,"y":-6.083},{"s":"CRNN - weight sharing","x":10560,"y":-6.054},{"s":"CRNN - weight sharing","x":10650,"y":-6.05},{"s":"CRNN - weight sharing","x":10730,"y":-6.096},{"s":"CRNN - weight sharing","x":10820,"y":-6.117},{"s":"CRNN - weight sharing","x":10880,"y":-6.108},{"s":"CRNN - weight sharing","x":10970,"y":-6.117},{"s":"CRNN - weight sharing","x":11050,"y":-6.138},{"s":"CRNN - weight sharing","x":11140,"y":-6.15},{"s":"CRNN - weight sharing","x":11200,"y":-6.192},{"s":"CRNN - weight sharing","x":11240,"y":-6.138},{"s":"CRNN - weight sharing","x":11290,"y":-6.125},{"s":"CRNN - weight sharing","x":11350,"y":-6.192},{"s":"CRNN - weight sharing","x":11460,"y":-6.183},{"s":"CRNN - weight sharing","x":11540,"y":-6.175},{"s":"CRNN - weight sharing","x":11610,"y":-6.15},{"s":"CRNN - weight sharing","x":11670,"y":-6.133},{"s":"CRNN - weight sharing","x":11730,"y":-6.125},{"s":"CRNN - weight sharing","x":11770,"y":-6.125},{"s":"CRNN - weight sharing","x":11840,"y":-6.1},{"s":"CRNN - weight sharing","x":11910,"y":-6.108},{"s":"CRNN - weight sharing","x":11990,"y":-6.15},{"s":"CRNN - weight sharing","x":12040,"y":-6.092},{"s":"CRNN - weight sharing","x":12110,"y":-6.117},{"s":"CRNN - weight sharing","x":12200,"y":-6.142},{"s":"CRNN - weight sharing","x":12250,"y":-6.183},{"s":"CRNN - weight sharing","x":12310,"y":-6.2},{"s":"CRNN - weight sharing","x":12360,"y":-6.133},{"s":"CRNN - weight sharing","x":12430,"y":-6.058},{"s":"CRNN - weight sharing","x":12490,"y":-6.017},{"s":"CRNN - weight sharing","x":12530,"y":-6.1},{"s":"CRNN - weight sharing","x":12600,"y":-6.133},{"s":"CRNN - weight sharing","x":12660,"y":-6.146},{"s":"CRNN - weight sharing","x":12700,"y":-6.167},{"s":"CRNN - weight sharing","x":12730,"y":-6.117},{"s":"CRNN - weight sharing","x":12780,"y":-6.067},{"s":"CRNN - weight sharing","x":12850,"y":-6.083},{"s":"CRNN - weight sharing","x":12890,"y":-6.125},{"s":"CRNN - weight sharing","x":12940,"y":-6.05},{"s":"CRNN - weight sharing","x":12990,"y":-6.117},{"s":"CRNN - weight sharing","x":13040,"y":-6.1},{"s":"CRNN - weight sharing","x":13090,"y":-6.067},{"s":"CRNN - weight sharing","x":13190,"y":-6.058},{"s":"CRNN - weight sharing","x":13280,"y":-6.058},{"s":"CRNN - weight sharing","x":13390,"y":-6.067},{"s":"CRNN - weight sharing","x":13440,"y":-6.167},{"s":"CRNN - weight sharing","x":13500,"y":-6.125},{"s":"CRNN - weight sharing","x":13580,"y":-6.117},{"s":"CRNN - weight sharing","x":13640,"y":-6.104},{"s":"CRNN - weight sharing","x":13690,"y":-6.042},{"s":"CRNN - weight sharing","x":13750,"y":-6.092},{"s":"CRNN - weight sharing","x":13830,"y":-6.1},{"s":"CRNN - weight sharing","x":13920,"y":-6.104},{"s":"CRNN - weight sharing","x":13970,"y":-6.146},{"s":"CRNN - weight sharing","x":14000,"y":-6.2},{"s":"CRNN - weight sharing","x":14090,"y":-6.229},{"s":"CRNN - weight sharing","x":14140,"y":-6.25},{"s":"CRNN - weight sharing","x":14190,"y":-6.296},{"s":"CRNN - weight sharing","x":14240,"y":-6.233},{"s":"CRNN - weight sharing","x":14330,"y":-6.246},{"s":"CRNN - weight sharing","x":14410,"y":-6.242},{"s":"CRNN - weight sharing","x":14480,"y":-6.204},{"s":"CRNN - weight sharing","x":14550,"y":-6.154},{"s":"CRNN - weight sharing","x":14610,"y":-6.138},{"s":"CRNN - weight sharing","x":14650,"y":-6.092},{"s":"CRNN - weight sharing","x":14720,"y":-6.133},{"s":"CRNN - weight sharing","x":14770,"y":-6.171},{"s":"CRNN - weight sharing","x":14850,"y":-6.15},{"s":"CRNN - weight sharing","x":14900,"y":-6.142},{"s":"CRNN - weight sharing","x":14990,"y":-6.075},{"s":"CRNN - weight sharing","x":15090,"y":-6.092},{"s":"CRNN - weight sharing","x":15150,"y":-6.138},{"s":"CRNN - weight sharing","x":15210,"y":-6.125},{"s":"CRNN - weight sharing","x":15280,"y":-6.054},{"s":"CRNN - weight sharing","x":15330,"y":-6.033},{"s":"CRNN - weight sharing","x":15390,"y":-6.042},{"s":"CRNN - weight sharing","x":15440,"y":-6.108},{"s":"CRNN - weight sharing","x":15510,"y":-6.117},{"s":"CRNN - weight sharing","x":15600,"y":-6.117},{"s":"CRNN - weight sharing","x":15680,"y":-6.096},{"s":"CRNN - weight sharing","x":15770,"y":-6.083}
]},
"mark": {"type": "line", "strokeWidth": 2.1, "clip": true},
"encoding": {
  "x": {"field": "x", "type": "quantitative", "scale": {"domain": [0, 16800], "nice": false, "zero": false},
        "axis": {"values": [0,2000,4000,6000,8000,10000,12000,14000,16000], "format": "d", "title": "Gradient Updates", "labelPadding": 4, "titlePadding": 10}},
  "y": {"field": "y", "type": "quantitative", "scale": {"domain": [-6.846, -0.979], "nice": false, "zero": false},
        "axis": {"values": [-6,-5,-4,-3,-2,-1], "format": "d", "title": "Training Log Loss", "labelPadding": 9, "labelFontSize": 34, "labelOffset": 3, "titlePadding": 23}},
  "color": {"field": "s", "type": "nominal",
    "scale": {"domain": ["CineNet - 5 cascades","CineNet - 6 cascades","CRNN - 5 cascades","CRNN - weight sharing"], "range": ["#000080","#006400","#b22222","#ff8c00"]},
    "legend": {"orient": "none", "legendX": 1057, "legendY": 21, "title": null, "symbolType": "stroke", "symbolSize": 7900, "symbolStrokeWidth": 2.1, "labelFontSize": 44, "labelFont": "Liberation Serif", "labelColor": "black", "padding": 12, "clipHeight": 50, "rowPadding": 12, "labelOffset": 39, "labelLimit": 0, "fillColor": "rgba(255,255,255,0.8)", "strokeColor": "#cccccc", "cornerRadius": 9}},
  "strokeDash": {"field": "s", "type": "nominal",
    "scale": {"domain": ["CineNet - 5 cascades","CineNet - 6 cascades","CRNN - 5 cascades","CRNN - weight sharing"], "range": [[13,3.3,2,3.3],[1,0],[1,0],[13,3.3,2,3.3]]},
    "legend": {"orient": "none", "legendX": 1057, "legendY": 21, "title": null, "symbolType": "stroke", "symbolSize": 7900, "symbolStrokeWidth": 2.1, "labelFontSize": 44, "labelFont": "Liberation Serif", "labelColor": "black", "padding": 12, "clipHeight": 50, "rowPadding": 12, "labelOffset": 39, "labelLimit": 0, "fillColor": "rgba(255,255,255,0.8)", "strokeColor": "#cccccc", "cornerRadius": 9}}
}
}
